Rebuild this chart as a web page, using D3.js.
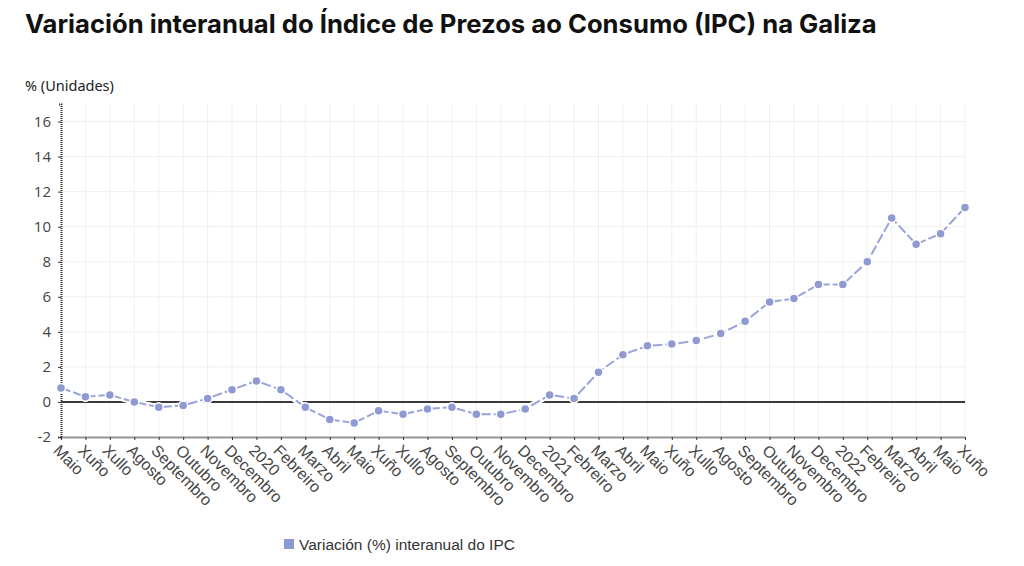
<!DOCTYPE html>
<html>
<head>
<meta charset="utf-8">
<script src="https://cdn.jsdelivr.net/npm/d3@7"></script>
<style>
  body { margin: 0; background: #fff; }
  svg { display: block; }
</style>
</head>
<body>
<div id="chart"></div>
<script>
'use strict';

// data
const months = ['Maio', 'Xuño', 'Xullo', 'Agosto', 'Septembro', 'Outubro', 'Novembro', 'Decembro',
	'2020', 'Febreiro', 'Marzo', 'Abril', 'Maio', 'Xuño', 'Xullo', 'Agosto', 'Septembro', 'Outubro', 'Novembro', 'Decembro',
	'2021', 'Febreiro', 'Marzo', 'Abril', 'Maio', 'Xuño', 'Xullo', 'Agosto', 'Septembro', 'Outubro', 'Novembro', 'Decembro',
	'2022', 'Febreiro', 'Marzo', 'Abril', 'Maio', 'Xuño'];

const ipcValues = [0.8, 0.3, 0.4, 0.0, -0.3, -0.2, 0.2, 0.7,
	1.2, 0.7, -0.3, -1.0, -1.2, -0.5, -0.7, -0.4, -0.3, -0.7, -0.7, -0.4,
	0.4, 0.2, 1.7, 2.7, 3.2, 3.3, 3.5, 3.9, 4.6, 5.7, 5.9, 6.7,
	6.7, 8.0, 10.5, 9.0, 9.6, 11.1];

const yTicks = [-2, 0, 2, 4, 6, 8, 10, 12, 14, 16];
const seriesName = 'Variación (%) interanual do IPC';
const titleText = 'Variación interanual do Índice de Prezos ao Consumo (IPC) na Galiza';

const W = 1024, H = 566;
const margin = { top: 104, right: 59, bottom: 129, left: 61 };
const width = W - margin.left - margin.right;
const height = H - margin.top - margin.bottom;

const lineColor = '#9aa3da';
const dotColor = '#8f9ad3';

const svg = d3.select('#chart').append('svg')
	.attr('width', W)
	.attr('height', H);

// title, fitted to the reference width
const title = svg.append('text')
	.attr('x', 25)
	.attr('y', 33)
	.style('font-family', 'Inter, "Noto Sans", sans-serif')
	.style('font-weight', 700)
	.style('font-size', '24px')
	.style('fill', '#111')
	.text(titleText);
const tw = title.node().getComputedTextLength();
title.style('font-size', (24 * 852 / tw).toFixed(2) + 'px');

svg.append('text')
	.attr('x', 25)
	.attr('y', 91)
	.style('font-family', '"Noto Sans", sans-serif')
	.style('font-size', '14.5px')
	.style('fill', '#222')
	.text('% (Unidades)');

const g = svg.append('g')
	.attr('transform', 'translate(' + margin.left + ',' + margin.top + ')');

const x = d3.scalePoint()
	.domain(d3.range(months.length))
	.range([0, width]);

const y = d3.scaleLinear()
	.domain([-2, 17])
	.range([height, 0]);

// grid
g.append('g').selectAll('line.v')
	.data(d3.range(months.length))
	.join('line')
	.attr('x1', d => x(d)).attr('x2', d => x(d))
	.attr('y1', 0).attr('y2', height)
	.style('stroke', '#f0f0f0')
	.style('stroke-width', 1);

g.append('g').selectAll('line.h')
	.data(yTicks)
	.join('line')
	.attr('x1', 0).attr('x2', width)
	.attr('y1', d => y(d)).attr('y2', d => y(d))
	.style('stroke', '#efefef')
	.style('stroke-width', 1);

// zero line
g.append('line')
	.attr('x1', 0).attr('x2', width)
	.attr('y1', y(0)).attr('y2', y(0))
	.style('stroke', '#3a3a3a')
	.style('stroke-width', 2);

// y axis
const yAxis = g.append('g')
	.call(d3.axisLeft(y).tickValues(yTicks).tickSize(3).tickPadding(7).tickFormat(d => String(d)));
yAxis.select('.domain')
	.style('stroke', '#333')
	.style('stroke-width', 2)
	.style('stroke-dasharray', '1,1');
yAxis.selectAll('.tick line').style('stroke', '#333');
yAxis.selectAll('.tick text')
	.style('font-family', '"Open Sans", "Noto Sans", sans-serif')
	.style('font-size', '15px')
	.style('fill', '#444');

// x axis
const xAxis = g.append('g')
	.attr('transform', 'translate(0,' + height + ')')
	.call(d3.axisBottom(x).tickSize(3).tickSizeOuter(0).tickFormat(i => months[i]));
xAxis.select('.domain')
	.style('stroke', '#333')
	.style('stroke-width', 2)
	.style('stroke-dasharray', '1,1');
xAxis.selectAll('.tick line').style('stroke', '#333');
xAxis.selectAll('.tick text')
	.attr('transform', 'rotate(45)')
	.attr('x', 4)
	.attr('y', 7)
	.attr('dy', '0.6em')
	.style('text-anchor', 'start')
	.style('font-family', '"Liberation Sans", Arial, sans-serif')
	.style('font-size', '16px')
	.style('fill', '#444');

// series line
const line = d3.line()
	.x((d, i) => x(i))
	.y(d => y(d));

g.append('path')
	.datum(ipcValues)
	.attr('d', line)
	.style('fill', 'none')
	.style('stroke', '#fff')
	.style('stroke-width', 6);

g.append('path')
	.datum(ipcValues)
	.attr('d', line)
	.style('fill', 'none')
	.style('stroke', lineColor)
	.style('stroke-width', 2)
	.style('stroke-dasharray', '10,3');

g.append('g').selectAll('circle')
	.data(ipcValues)
	.join('circle')
	.attr('cx', (d, i) => x(i))
	.attr('cy', d => y(d))
	.attr('r', 4.5)
	.style('fill', dotColor)
	.style('stroke', '#fff')
	.style('stroke-width', 1.5);

// legend
const legend = svg.append('g')
	.attr('transform', 'translate(284,539)');
legend.append('rect')
	.attr('width', 10).attr('height', 10)
	.style('fill', dotColor);
legend.append('text')
	.attr('x', 15)
	.attr('y', 10.5)
	.style('font-family', '"Liberation Sans", Arial, sans-serif')
	.style('font-size', '15.5px')
	.style('fill', '#333')
	.text(seriesName);
</script>
</body>
</html>
